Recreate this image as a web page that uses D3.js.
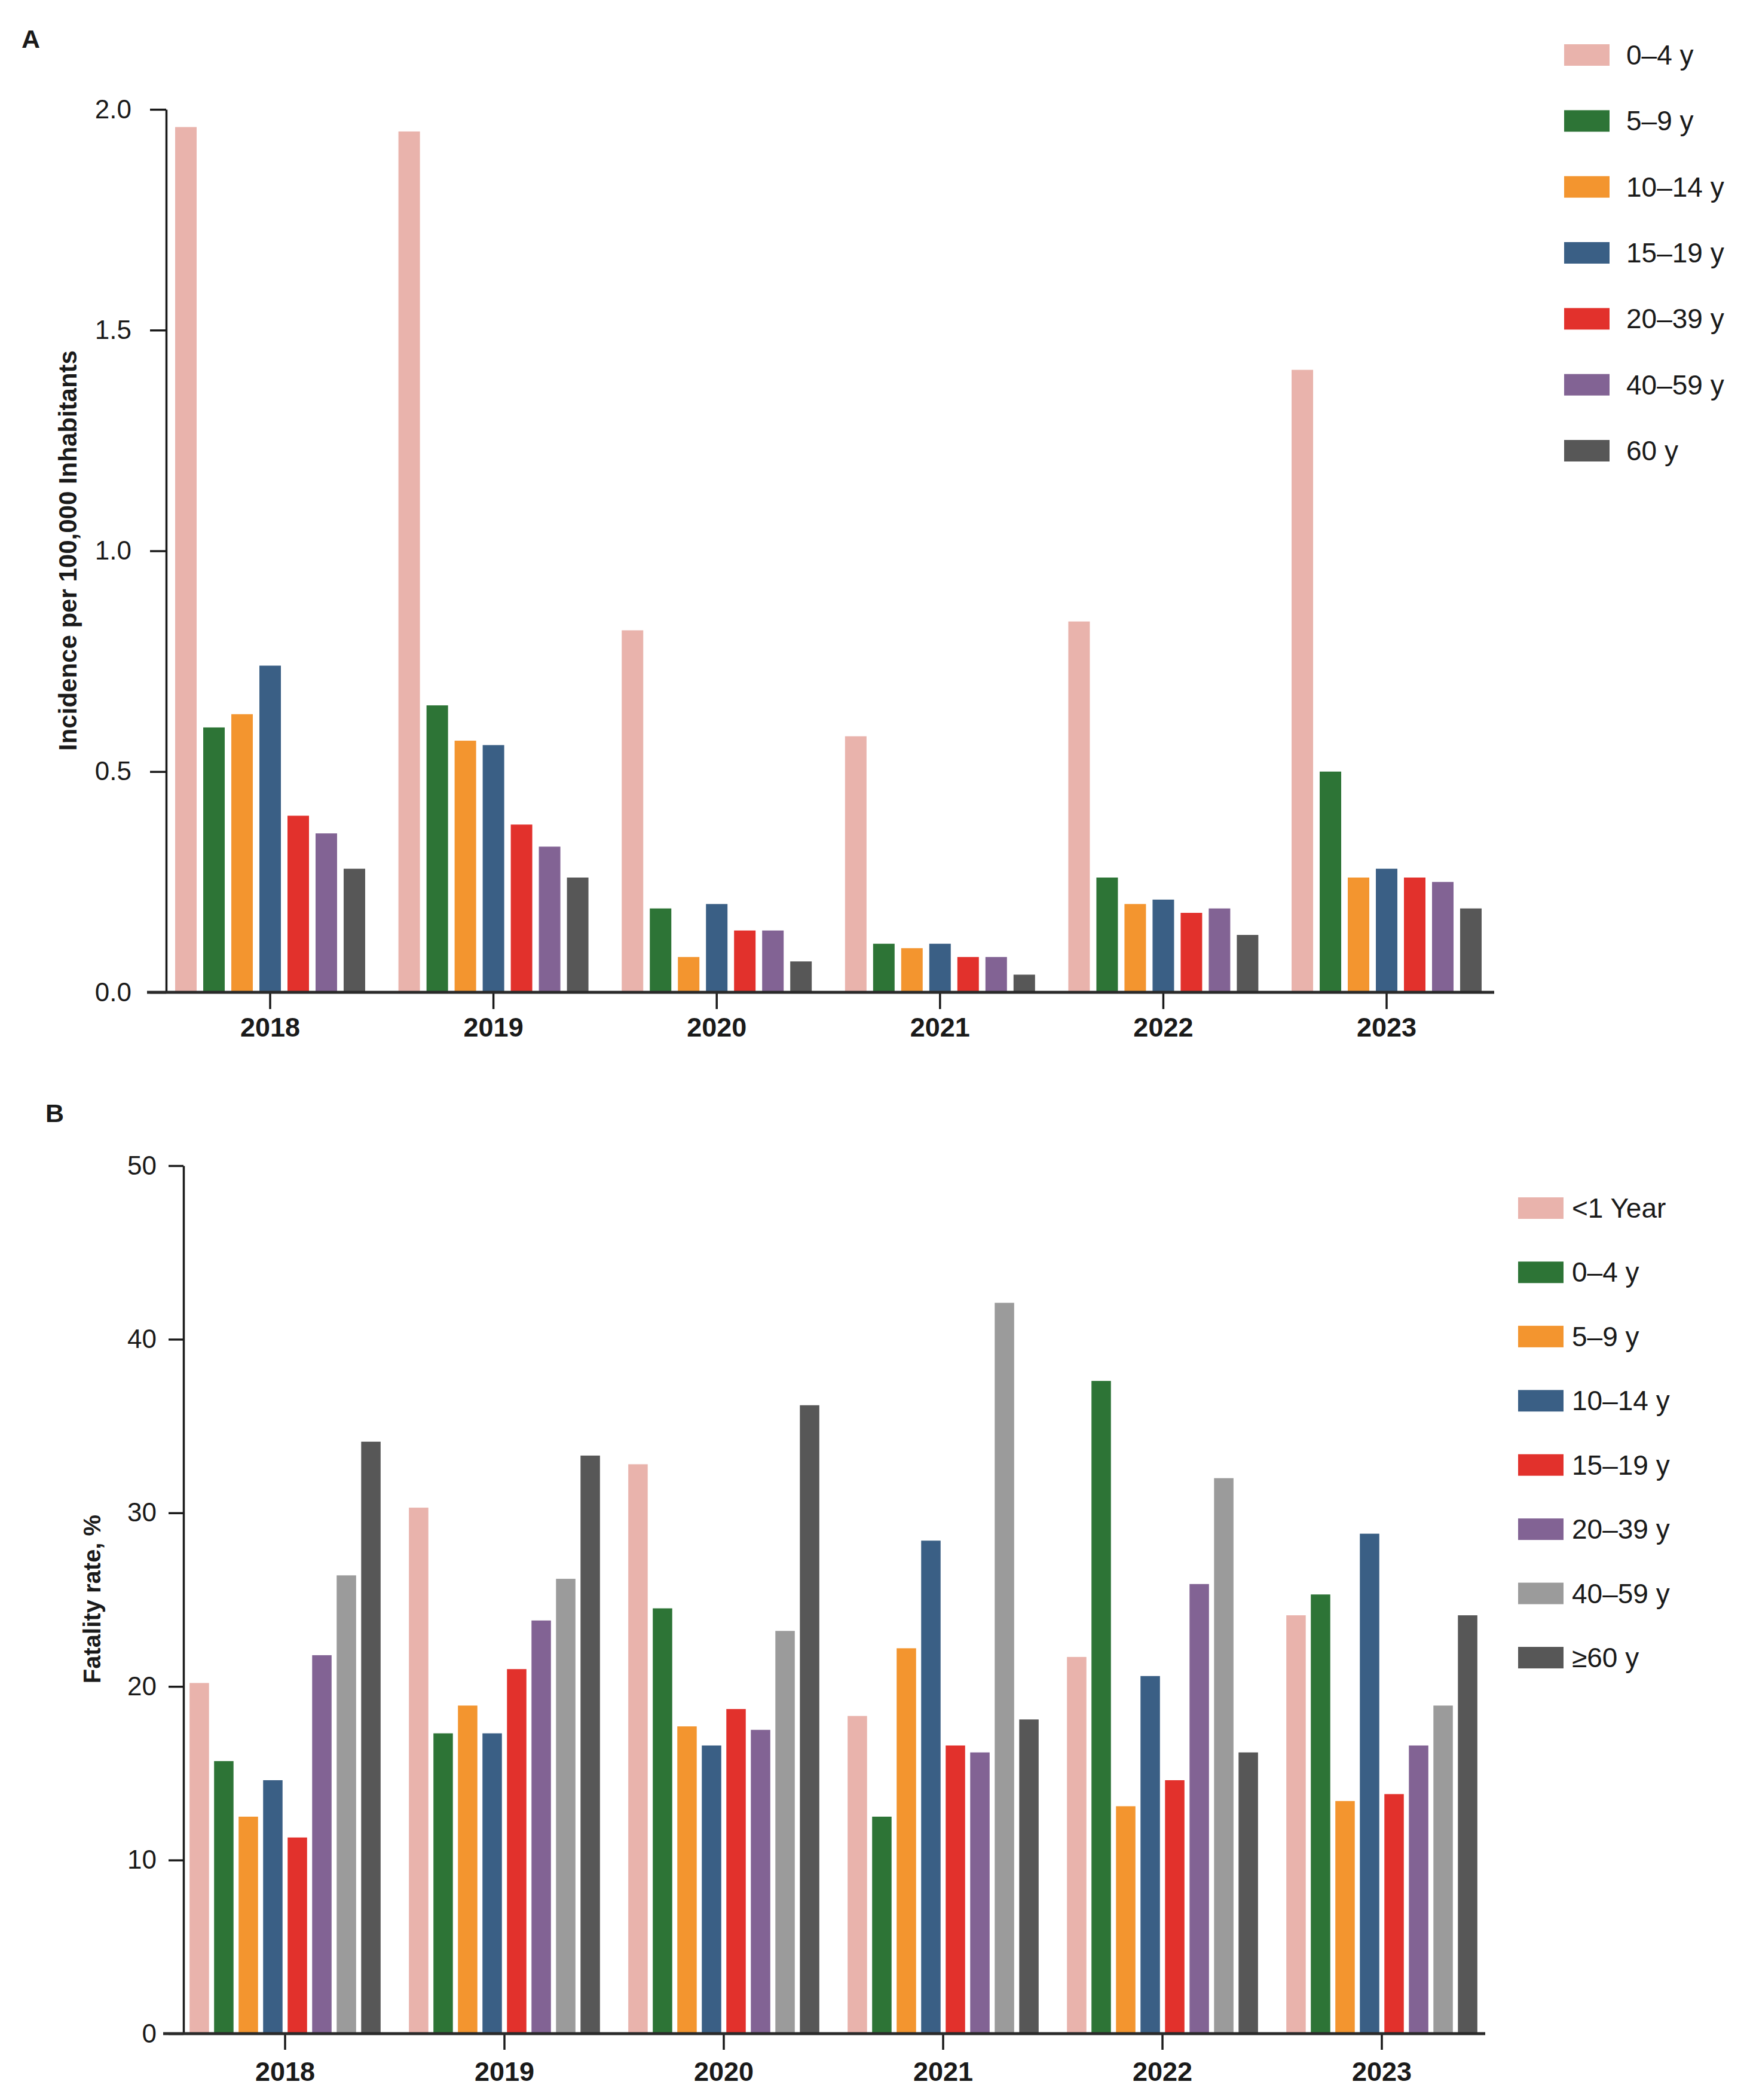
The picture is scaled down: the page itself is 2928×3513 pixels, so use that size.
<!DOCTYPE html>
<html>
<head>
<meta charset="utf-8">
<script src="https://cdn.jsdelivr.net/npm/d3@7"></script>
<style>
  html, body { margin: 0; padding: 0; background: #ffffff; }
  svg { display: block; font-family: "Liberation Sans", Arial, sans-serif; }
</style>
</head>
<body>
<svg id="chart" width="2928" height="3513"></svg>
<script>
// ---------- data ----------
const years = ["2018", "2019", "2020", "2021", "2022", "2023"];

// Panel A: incidence per 100,000 inhabitants
const agesA = ["0–4 y", "5–9 y", "10–14 y", "15–19 y", "20–39 y", "40–59 y", "60 y"];
const incidence_0_4   = [1.96, 1.95, 0.82, 0.58, 0.84, 1.41];
const incidence_5_9   = [0.60, 0.65, 0.19, 0.11, 0.26, 0.50];
const incidence_10_14 = [0.63, 0.57, 0.08, 0.10, 0.20, 0.26];
const incidence_15_19 = [0.74, 0.56, 0.20, 0.11, 0.21, 0.28];
const incidence_20_39 = [0.40, 0.38, 0.14, 0.08, 0.18, 0.26];
const incidence_40_59 = [0.36, 0.33, 0.14, 0.08, 0.19, 0.25];
const incidence_60    = [0.28, 0.26, 0.07, 0.04, 0.13, 0.19];
const colorsA = ["#E9B3AC", "#2D7436", "#F3952F", "#3A5F85", "#E2312C", "#826394", "#575757"];
const ticksA = [0, 0.5, 1.0, 1.5, 2.0];

// Panel B: fatality rate, %
const agesB = ["<1 Year", "0–4 y", "5–9 y", "10–14 y", "15–19 y", "20–39 y", "40–59 y", "≥60 y"];
const fatality_lt1   = [20.2, 30.3, 32.8, 18.3, 21.7, 24.1];
const fatality_0_4   = [15.7, 17.3, 24.5, 12.5, 37.6, 25.3];
const fatality_5_9   = [12.5, 18.9, 17.7, 22.2, 13.1, 13.4];
const fatality_10_14 = [14.6, 17.3, 16.6, 28.4, 20.6, 28.8];
const fatality_15_19 = [11.3, 21.0, 18.7, 16.6, 14.6, 13.8];
const fatality_20_39 = [21.8, 23.8, 17.5, 16.2, 25.9, 16.6];
const fatality_40_59 = [26.4, 26.2, 23.2, 42.1, 32.0, 18.9];
const fatality_ge60  = [34.1, 33.3, 36.2, 18.1, 16.2, 24.1];
const colorsB = ["#E9B3AC", "#2D7436", "#F3952F", "#3A5F85", "#E2312C", "#826394", "#9B9B9B", "#575757"];
const ticksB = [0, 10, 20, 30, 40, 50];

const seriesA = [incidence_0_4, incidence_5_9, incidence_10_14, incidence_15_19, incidence_20_39, incidence_40_59, incidence_60];
const seriesB = [fatality_lt1, fatality_0_4, fatality_5_9, fatality_10_14, fatality_15_19, fatality_20_39, fatality_40_59, fatality_ge60];

const svg = d3.select("#chart");
const FONT = '"Liberation Sans", Arial, sans-serif';

function drawPanel(cfg) {
  const g = svg.append("g");
  const step = cfg.yearStep;
  const x0 = d3.scaleBand().domain(years)
    .range([cfg.firstCenter - step / 2, cfg.firstCenter + (years.length - 0.5) * step])
    .paddingInner(cfg.groupPad).paddingOuter(cfg.groupPad / 2);
  const x1 = d3.scaleBand().domain(cfg.ages)
    .range([0, x0.bandwidth()]).paddingInner(cfg.barPad).paddingOuter(0);
  const y = d3.scaleLinear().domain([0, cfg.yMax]).range([cfg.yZero, cfg.yTop]);

  // bars
  const rows = [];
  cfg.ages.forEach((a, i) => years.forEach((yr, j) => rows.push({ age: a, year: yr, v: cfg.series[i][j], c: cfg.colors[i] })));
  g.append("g").selectAll("rect").data(rows).join("rect")
    .attr("x", d => x0(d.year) + x1(d.age))
    .attr("y", d => y(d.v))
    .attr("width", x1.bandwidth())
    .attr("height", d => y(0) - y(d.v))
    .attr("fill", d => d.c);

  // y axis
  const yAxis = d3.axisLeft(y).tickValues(cfg.ticks).tickFormat(cfg.fmt)
    .tickSize(cfg.tickLen).tickPadding(cfg.tickPad).tickSizeOuter(0);
  const ya = g.append("g").attr("transform", `translate(${cfg.axisX},0)`).call(yAxis);
  ya.select(".domain").attr("stroke", "#1a1a1a").attr("stroke-width", 3.5);
  ya.selectAll(".tick line").attr("stroke", "#1a1a1a").attr("stroke-width", 3.5);
  ya.selectAll(".tick text").attr("fill", "#1a1a1a").style("font-family", FONT).style("font-size", "44px");

  // x axis
  const xAxis = d3.axisBottom(x0).tickSize(cfg.xTickLen).tickPadding(cfg.xTickPad).tickSizeOuter(0);
  const xa = g.append("g").attr("transform", `translate(0,${cfg.yZero})`).call(xAxis);
  xa.select(".domain").remove();
  xa.selectAll(".tick line").attr("stroke", "#1a1a1a").attr("stroke-width", 3.5);
  xa.selectAll(".tick text").attr("fill", "#1a1a1a").style("font-family", FONT)
    .style("font-size", "45px").style("font-weight", "bold");
  g.append("line")
    .attr("x1", cfg.xLineStart).attr("x2", cfg.xLineEnd)
    .attr("y1", cfg.yZero).attr("y2", cfg.yZero)
    .attr("stroke", "#2a2a2a").attr("stroke-width", 5);

  // axis title
  g.append("text")
    .attr("transform", `translate(${cfg.titleX},${cfg.titleY}) rotate(-90)`)
    .attr("text-anchor", "middle")
    .style("font-family", FONT).style("font-weight", "bold").style("font-size", cfg.titleSize + "px")
    .attr("fill", "#1a1a1a")
    .text(cfg.title);

  // panel letter
  g.append("text").attr("x", cfg.letterX).attr("y", cfg.letterY)
    .style("font-family", FONT).style("font-weight", "bold").style("font-size", "43px")
    .attr("fill", "#1a1a1a").text(cfg.letter);

  // legend
  const ly = d3.scalePoint().domain(cfg.ages).range(cfg.legendRange);
  const lg = g.append("g").selectAll("g").data(cfg.ages).join("g")
    .attr("transform", d => `translate(${cfg.legendX},${ly(d)})`);
  lg.append("rect").attr("x", 0).attr("y", -18).attr("width", 76).attr("height", 36)
    .attr("fill", (d, i) => cfg.colors[i]);
  lg.append("text").attr("x", cfg.legendTextDx).attr("y", 16)
    .style("font-family", FONT).style("font-size", "46px").attr("fill", "#1a1a1a")
    .text(d => d);
}

drawPanel({
  letter: "A", letterX: 36, letterY: 80,
  ages: agesA, series: seriesA, colors: colorsA,
  yMax: 2.0, yZero: 1660, yTop: 183, ticks: ticksA, fmt: d3.format(".1f"),
  axisX: 278, tickLen: 27, tickPad: 31,
  firstCenter: 452, yearStep: 373.6, groupPad: 0.149, barPad: 0.234,
  xTickLen: 28, xTickPad: 14, xLineStart: 246, xLineEnd: 2500,
  title: "Incidence per 100,000 Inhabitants", titleX: 128, titleY: 921, titleSize: 42,
  legendX: 2617, legendRange: [92, 754], legendTextDx: 104
});

drawPanel({
  letter: "B", letterX: 76, letterY: 1877,
  ages: agesB, series: seriesB, colors: colorsB,
  yMax: 50, yZero: 3402, yTop: 1950, ticks: ticksB, fmt: d3.format("d"),
  axisX: 307, tickLen: 25, tickPad: 20,
  firstCenter: 477, yearStep: 367, groupPad: 0.129, barPad: 0.207,
  xTickLen: 27, xTickPad: 20, xLineStart: 273, xLineEnd: 2485,
  title: "Fatality rate, %", titleX: 168, titleY: 2675, titleSize: 40,
  legendX: 2540, legendRange: [2021, 2773], legendTextDx: 90
});
</script>
</body>
</html>
